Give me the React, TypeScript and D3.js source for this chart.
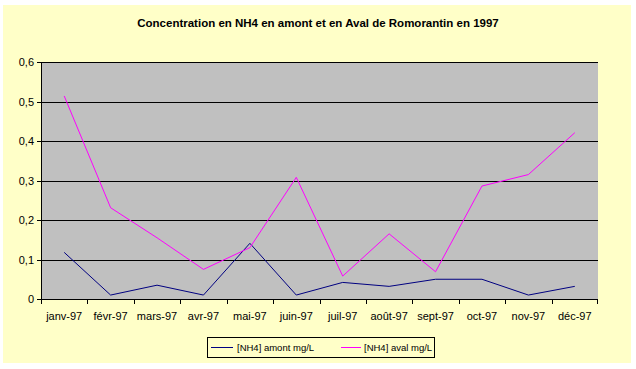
import React from "react";
import * as d3 from "d3";

const months = ["janv-97", "févr-97", "mars-97", "avr-97", "mai-97", "juin-97", "juil-97", "août-97", "sept-97", "oct-97", "nov-97", "déc-97"];
const amont = [0.118, 0.01, 0.035, 0.01, 0.141, 0.01, 0.042, 0.032, 0.05, 0.05, 0.01, 0.032];
const aval = [0.514, 0.231, 0.155, 0.075, 0.13, 0.308, 0.058, 0.165, 0.069, 0.286, 0.315, 0.421];
const yTicks = [0, 0.1, 0.2, 0.3, 0.4, 0.5, 0.6];
const seriesNames = ["[NH4] amont mg/L", "[NH4] aval mg/L"];
const title = "Concentration en NH4 en amont et en Aval de Romorantin en 1997";

export default function App() {
  const W = 636, H = 369;
  const left = 41, right = 598, top = 62, bottom = 299;
  const x = d3.scaleBand<string>().domain(months).range([left, right]);
  const y = d3.scaleLinear().domain([0, 0.6]).range([bottom, top]);
  const line = d3.line<number>()
    .x((_, i) => (x(months[i]) as number) + x.bandwidth() / 2)
    .y((d) => y(d));
  const font = "'Liberation Sans', Arial, sans-serif";
  return (
    <svg width={W} height={H} style={{ position: "absolute", left: 0, top: 0 }} fontFamily={font}>
      <rect x={0} y={0} width={W} height={H} fill="#ffffff" />
      <rect x={3} y={5} width={628} height={358} fill="#FFFFC8" />
      <text x={318} y={27} textAnchor="middle" fontSize={11.5} fontWeight="bold" fill="#000">{title}</text>
      <rect x={left} y={top} width={right - left} height={bottom - top} fill="#C0C0C0" />
      {yTicks.filter((t) => t > 0).map((t) => (
        <line key={t} x1={left} x2={right} y1={Math.round(y(t)) + 0.5} y2={Math.round(y(t)) + 0.5} stroke="#000" strokeWidth={1} />
      ))}
      <line x1={left + 0.5} x2={left + 0.5} y1={top} y2={bottom} stroke="#000" />
      <line x1={left} x2={right} y1={bottom + 0.5} y2={bottom + 0.5} stroke="#000" />
      {yTicks.map((t) => (
        <g key={t}>
          <line x1={left - 4} x2={left} y1={Math.round(y(t)) + 0.5} y2={Math.round(y(t)) + 0.5} stroke="#000" />
          <text x={left - 7} y={y(t) + 4} textAnchor="end" fontSize={11} fill="#000">{String(t).replace(".", ",")}</text>
        </g>
      ))}
      {months.map((m, i) => (
        <line key={"t" + i} x1={Math.round(x(m) as number) + 0.5} x2={Math.round(x(m) as number) + 0.5} y1={bottom} y2={bottom + 5} stroke="#000" />
      ))}
      <line x1={right - 0.5} x2={right - 0.5} y1={bottom} y2={bottom + 5} stroke="#000" />
      {months.map((m) => (
        <text key={m} x={(x(m) as number) + x.bandwidth() / 2} y={320} textAnchor="middle" fontSize={11} fill="#000">{m}</text>
      ))}
      <path d={line(amont) || ""} fill="none" stroke="#000080" strokeWidth={1} />
      <path d={line(aval) || ""} fill="none" stroke="#FF00FF" strokeWidth={1} />
      <rect x={207.5} y={337.5} width={227} height={20} fill="#FFFFC8" stroke="#000" />
      <line x1={211} x2={233} y1={347.5} y2={347.5} stroke="#000080" />
      <text x={237} y={351} fontSize={9.5} fill="#000">{seriesNames[0]}</text>
      <line x1={341} x2={361} y1={347.5} y2={347.5} stroke="#FF00FF" />
      <text x={364} y={351} fontSize={9.5} fill="#000">{seriesNames[1]}</text>
    </svg>
  );
}
